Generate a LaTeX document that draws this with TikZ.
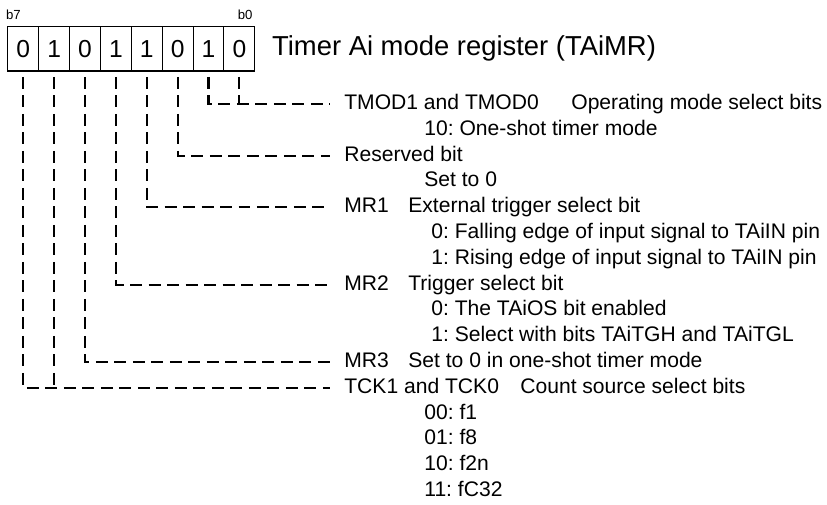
\documentclass[tikz,border=0pt]{standalone}
\usepackage{fontspec}
\setmainfont{Liberation Sans}
\usetikzlibrary{positioning}

\tikzset{
  cell/.style={draw,line width=0.6pt,minimum width=0.6175cm,minimum height=0.886cm,
    inner sep=0pt,outer sep=0pt,font=\fontsize{14}{16}\selectfont},
  bitno/.style={inner sep=0pt,font=\fontsize{7.5}{9}\selectfont},
  regname/.style={inner sep=0pt,font=\fontsize{15.6}{18}\selectfont},
  txt/.style={anchor=west,inner sep=0pt,text height=1.6ex,text depth=0.4ex,
    font=\fontsize{12}{14}\selectfont},
  fld/.style={txt,inner xsep=0.28cm},
  dline/.style={line width=1.2pt,dash pattern=on 0.24cm off 0.13cm}
}

\begin{document}
\frenchspacing
\begin{tikzpicture}[x=0.02cm,y=-0.02cm]
  \useasboundingbox (0,0) rectangle (827,504);
  % register bits, b7 on the left
  \foreach \v/\b [count=\k from 0] in {0/7,1/6,0/5,1/4,1/3,0/2,1/1,0/0}
    \node[cell] (c\b) at ({23.24+30.875*\k},48.85) {\v};
  \node[bitno,anchor=south west] (lb7) at ([shift={(-2,-7)}]c7.north west) {b7};
  \node[bitno,anchor=south east] (lb0) at ([shift={(-2,-7)}]c0.north east) {b0};
  \node[regname,anchor=west,right=0.34cm of c0] (ttl) {Timer Ai mode register (TAiMR)};

  % bit fields
  \node[fld] (tmod) at (330,104) {TMOD1 and TMOD0};
  \node[txt] (tmodd) at (571,104) {Operating mode select bits};
  \node[txt] (tmod10) at (424,129.8) {10: One-shot timer mode};
  \node[fld] (res) at (330,155.6) {Reserved bit};
  \node[txt] (resd) at (424,181.4) {Set to 0};
  \node[fld] (mr1) at (330,207.2) {MR1};
  \node[txt] (mr1d) at (408,207.2) {External trigger select bit};
  \node[txt] (mr1a) at (431,233) {0: Falling edge of input signal to TAiIN pin};
  \node[txt] (mr1b) at (431,258.8) {1: Rising edge of input signal to TAiIN pin};
  \node[fld] (mr2) at (330,284.6) {MR2};
  \node[txt] (mr2d) at (408,284.6) {Trigger select bit};
  \node[txt] (mr2a) at (431,310.4) {0: The TAiOS bit enabled};
  \node[txt] (mr2b) at (431,336.2) {1: Select with bits TAiTGH and TAiTGL};
  \node[fld] (mr3) at (330,362) {MR3};
  \node[txt] (mr3d) at (408,362) {Set to 0 in one-shot timer mode};
  \node[fld] (tck) at (330,387.8) {TCK1 and TCK0};
  \node[txt] (tckd) at (520,387.8) {Count source select bits};
  \foreach \s/\y in {00: f1/413.6,01: f8/439.4,10: f2n/465.2,11: fC32/491}
    \node[txt] at (424,\y) {\s};

  % dashed leaders from the bits
  \foreach \b/\f in {1/tmod,2/res,3/mr1,4/mr2,5/mr3,7/tck}
    \draw[dline] ([yshift=-0.12cm]c\b.south) |- (\f.west);
  % b0 and b6 only drop onto the shared leader
  \draw[dline] ([yshift=-0.12cm]c0.south) -- (c0.south |- tmod.west);
  \draw[dline] ([yshift=-0.12cm]c6.south) -- (c6.south |- tck.west);
\end{tikzpicture}
\end{document}
